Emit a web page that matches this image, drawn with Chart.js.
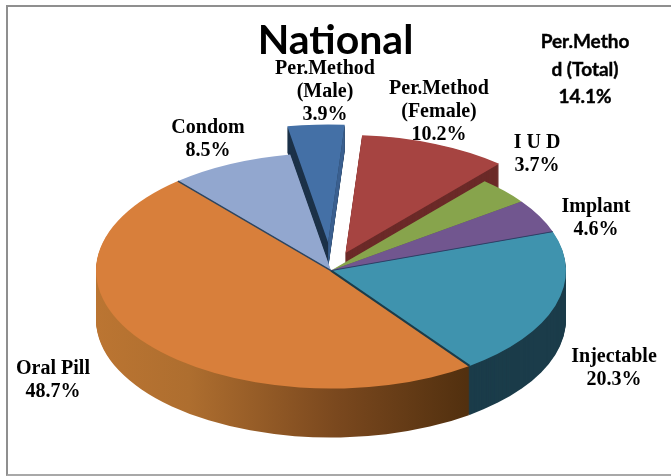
<!DOCTYPE html>
<html>
<head>
<meta charset="utf-8">
<script src="https://cdn.jsdelivr.net/npm/chart.js@4"></script>
<style>
html,body{margin:0;padding:0;background:#fff;}
#wrap{position:relative;width:671px;height:476px;overflow:hidden;}
#frame{position:absolute;left:6px;top:5px;width:665px;height:471px;border-left:2px solid #8f8f8f;border-top:2px solid #8f8f8f;border-bottom:2px solid #a8a8a8;box-sizing:border-box;}
canvas{position:absolute;left:0;top:0;}
</style>
</head>
<body>
<div id="wrap"><div id="frame"></div><canvas id="c" width="671" height="476"></canvas></div>
<script>
const categories = ['Per.Method (Male)','Per.Method (Female)','I U D','Implant','Injectable','Oral Pill','Condom'];
const values = [3.9,10.2,3.7,4.6,20.3,48.7,8.5];
const titleText = 'National';
const noteLines = ['Per.Metho','d (Total)','14.1%'];

const labelLines = [['Per.Method','(Male)'],['Per.Method','(Female)'],['I U D'],['Implant'],['Injectable'],['Oral Pill'],['Condom']];
const labelAnchors = [[325,69],[439,89],[537,143],[596,207],[614,357],[53,369],[208,128]];
const topColors = ['#4470a6','#a64441','#87a44c','#71568f','#3f93ae','#d87f3b','#92a7cf'];
const wallColors = ['#1d3249','#6b2a28','#5d7433','#4d3a63','#1b3c4a','#000000','#62718f'];
const explode = [56,38,0,0,0,0,0];
const wallDepth = [26,24,49,49,49,49,49];
const squash = 0.502;
const pieShiftX = -4.5;

function pose(ctx, el, i, k){
  const mid = (el.startAngle + el.endAngle) / 2;
  ctx.translate(el.x + pieShiftX, el.y + k);
  ctx.scale(1, squash);
  ctx.translate(-el.x, -el.y);
  ctx.translate(Math.cos(mid) * explode[i], Math.sin(mid) * explode[i]);
}
function edgePoint(el, a){
  return [el.x + Math.cos(a) * el.outerRadius, el.y + Math.sin(a) * el.outerRadius];
}
function orangeGradient(ctx, el){
  const g = ctx.createLinearGradient(el.x - el.outerRadius, 0, el.x + el.outerRadius * 0.575, 0);
  g.addColorStop(0, '#bb7532');
  g.addColorStop(0.25, '#ae6e2f');
  g.addColorStop(0.65, '#7a481e');
  g.addColorStop(1, '#52300f');
  return g;
}
function drawWalls(ctx, el, i){
  for (let k = wallDepth[i]; k >= 1; k--) {
    ctx.save();
    pose(ctx, el, i, k);
    ctx.beginPath();
    ctx.moveTo(el.x, el.y);
    ctx.arc(el.x, el.y, el.outerRadius, el.startAngle, el.endAngle);
    ctx.closePath();
    ctx.fillStyle = i === 5 ? orangeGradient(ctx, el) : wallColors[i];
    ctx.fill();
    ctx.restore();
  }
}
function drawRightCut(ctx, el, i, color){
  const p = edgePoint(el, el.endAngle);
  ctx.save();
  ctx.beginPath();
  ctx.save(); pose(ctx, el, i, 0);
  ctx.moveTo(el.x, el.y); ctx.lineTo(p[0], p[1]);
  ctx.restore();
  ctx.save(); pose(ctx, el, i, wallDepth[i]);
  ctx.lineTo(p[0], p[1]); ctx.lineTo(el.x, el.y);
  ctx.restore();
  ctx.closePath();
  ctx.fillStyle = color;
  ctx.fill();
  ctx.restore();
}
function drawTop(ctx, el, i){
  ctx.save();
  pose(ctx, el, i, 0);
  el.draw(ctx);
  ctx.restore();
}
function strokeEdge(ctx, el, i, angle, color, width){
  const p = edgePoint(el, angle);
  ctx.save();
  ctx.beginPath();
  ctx.save(); pose(ctx, el, i, 0);
  ctx.moveTo(el.x, el.y); ctx.lineTo(p[0], p[1]);
  ctx.restore();
  ctx.strokeStyle = color;
  ctx.lineWidth = width;
  ctx.stroke();
  ctx.restore();
}

const pie3d = {
  id: 'pie3d',
  beforeDatasetDraw(chart, args) {
    const ctx = chart.ctx, arcs = args.meta.data;
    [0, 1].forEach(i => {
      drawWalls(ctx, arcs[i], i);
      if (i === 0) drawRightCut(ctx, arcs[i], i, '#3a5f8f');
      drawTop(ctx, arcs[i], i);
    });
    [6, 2, 3, 4, 5].forEach(i => drawWalls(ctx, arcs[i], i));
    [6, 2, 3, 4, 5].forEach(i => drawTop(ctx, arcs[i], i));
    strokeEdge(ctx, arcs[5], 5, arcs[5].startAngle, '#1b3c4a', 2);
    strokeEdge(ctx, arcs[5], 5, arcs[5].endAngle, '#2c4560', 1.5);
    strokeEdge(ctx, arcs[4], 4, arcs[4].startAngle, '#2e3f66', 1);
    return false;
  },
  afterDatasetsDraw(chart) {
    const ctx = chart.ctx;
    ctx.save();
    ctx.textAlign = 'center';
    ctx.textBaseline = 'middle';
    ctx.fillStyle = '#000';
    ctx.font = 'bold 20px "Liberation Serif"';
    categories.forEach((c, i) => {
      const lines = labelLines[i].concat(values[i].toFixed(1) + '%');
      lines.forEach((t, n) => ctx.fillText(t, labelAnchors[i][0], labelAnchors[i][1] + n * 23));
    });
    ctx.font = 'bold 19px Lato';
    ctx.strokeStyle = '#000';
    ctx.lineWidth = 0.4;
    noteLines.forEach((t, n) => {
      ctx.fillText(t, 585, 42 + n * 27.5);
      ctx.strokeText(t, 585, 42 + n * 27.5);
    });
    ctx.restore();
  }
};

new Chart(document.getElementById('c'), {
  type: 'pie',
  data: {
    labels: categories,
    datasets: [{ data: values, backgroundColor: topColors, borderWidth: 0, clip: false, offset: 0 }]
  },
  options: {
    responsive: false,
    animation: false,
    radius: 235,
    rotation: -10,
    events: [],
    plugins: {
      legend: { display: false },
      tooltip: { enabled: false },
      title: {
        display: true,
        text: titleText,
        color: '#000',
        font: { family: 'Lato', weight: 'bold', size: 41, lineHeight: 1.2 },
        padding: { top: 16, bottom: 0 }
      }
    }
  },
  plugins: [pie3d]
});
</script>
</body>
</html>
